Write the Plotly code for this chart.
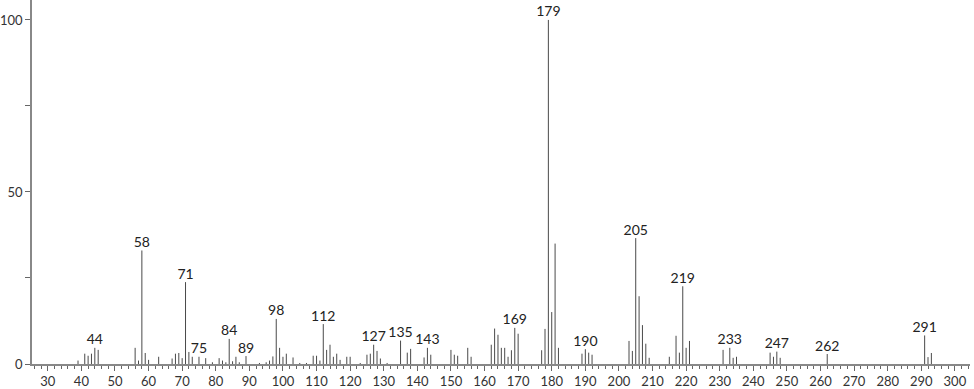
import plotly.graph_objects as go

mz = [39, 41, 42, 43, 44, 45, 56, 57, 58, 59, 60, 63, 67, 68, 69, 70, 71, 72, 73, 75, 77, 79,
      81, 82, 83, 84, 85, 86, 87, 89, 93, 95, 96, 97, 98, 99, 100, 101, 103, 105, 107,
      109, 110, 111, 112, 113, 114, 115, 116, 117, 119, 120, 123, 125, 126, 127, 128, 129, 131,
      135, 137, 138, 142, 143, 144, 150, 151, 152, 155, 156,
      162, 163, 164, 165, 166, 167, 168, 169, 170, 177, 178, 179, 180, 181, 182,
      189, 190, 191, 192, 203, 204, 205, 206, 207, 208, 209,
      215, 217, 218, 219, 220, 221, 231, 233, 234, 235, 245, 246, 247, 248,
      262, 291, 292, 293]
intensity = [1.0, 3.0, 2.4, 3.0, 4.7, 4.1, 4.7, 1.0, 33.0, 3.2, 1.2, 2.1, 1.6, 3.0, 3.2, 1.7, 23.8, 3.5, 2.1, 2.1, 1.7, 0.5,
             1.7, 1.0, 0.5, 7.3, 0.8, 2.1, 0.5, 2.3, 0.3, 0.5, 1.0, 2.2, 13.1, 4.7, 2.1, 3.0, 1.9, 0.3, 0.3,
             2.4, 2.4, 1.0, 11.6, 4.1, 5.6, 2.1, 3.0, 1.2, 2.1, 2.1, 0.3, 2.7, 3.0, 5.6, 3.8, 1.6, 0.3,
             6.8, 3.3, 4.4, 1.9, 4.7, 2.7, 4.1, 2.7, 2.4, 4.7, 2.1,
             5.6, 10.3, 8.5, 4.7, 4.7, 2.1, 4.0, 10.5, 8.8, 4.0, 10.2, 100.0, 15.1, 35.0, 4.7,
             3.0, 4.3, 3.3, 2.7, 6.7, 3.8, 36.6, 19.7, 11.3, 5.9, 1.8,
             2.1, 8.2, 3.3, 22.6, 4.7, 6.7, 4.1, 4.7, 1.8, 2.1, 3.3, 2.1, 3.6, 1.8,
             2.9, 8.3, 2.0, 3.2]
labeled_mz = [44, 58, 71, 75, 84, 89, 98, 112, 127, 135, 143, 169, 179, 190, 205, 219, 233, 247, 262, 291]

x_tick_vals = list(range(30, 301, 10))
y_tick_vals = [0, 50, 100]

lx, ly = [], []
for m, v in zip(mz, intensity):
    lx += [m, m, None]
    ly += [0, v, None]

lab_y = [intensity[mz.index(m)] for m in labeled_mz]

fig = go.Figure()
fig.add_trace(go.Scatter(x=lx, y=ly, mode="lines", line=dict(color="#4a4a4a", width=1),
                         hoverinfo="skip", showlegend=False))
fig.add_trace(go.Scatter(x=labeled_mz, y=lab_y, mode="text", text=[str(m) for m in labeled_mz],
                         textposition="top center", textfont=dict(family="Lato", size=14, color="#222"),
                         hoverinfo="skip", showlegend=False))

fig.update_layout(
    width=974, height=389,
    margin=dict(l=29, r=4, t=0, b=19),
    paper_bgcolor="white", plot_bgcolor="white",
    font=dict(family="Lato", size=13, color="#333"),
)
fig.update_xaxes(range=[25.3, 304.5], showgrid=False, zeroline=False,
                 showline=True, linecolor="#888", linewidth=1.5,
                 tickvals=x_tick_vals, ticks="outside", ticklen=5, tickcolor="#666",
                 minor=dict(dtick=2, tick0=0, ticks="outside", ticklen=3, tickcolor="#666"),
                 tickfont=dict(size=13, color="#333"))
fig.update_yaxes(range=[0, 105.8], showgrid=False, zeroline=False,
                 showline=True, linecolor="#888", linewidth=1.5,
                 tickvals=y_tick_vals, ticks="outside", ticklen=5, tickcolor="#666",
                 minor=dict(dtick=25, tick0=0, ticks="outside", ticklen=5, tickcolor="#666"),
                 tickfont=dict(size=13, color="#333"))

fig.write_html("out.html", config={"displayModeBar": False},
               post_script="document.body.style.margin='0';document.body.style.padding='0';")
